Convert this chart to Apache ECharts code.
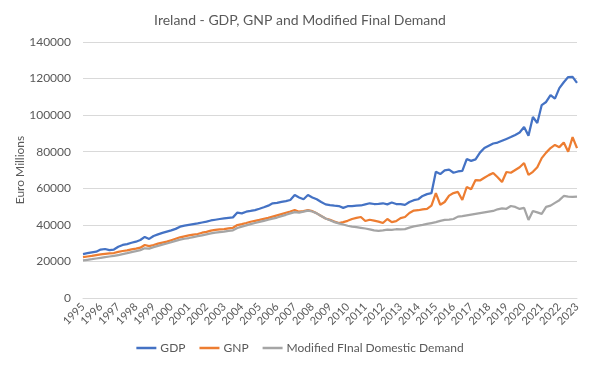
<!DOCTYPE html>
<html>
<head>
<meta charset="utf-8">
<script src="https://cdn.jsdelivr.net/npm/echarts@6/dist/echarts.min.js"></script>
<style>html,body{margin:0;padding:0;background:#fff}#c{width:600px;height:373px}</style>
</head>
<body>
<div id="c"></div>
<script>
const years = [1995,1996,1997,1998,1999,2000,2001,2002,2003,2004,2005,2006,2007,2008,2009,2010,2011,2012,2013,2014,2015,2016,2017,2018,2019,2020,2021,2022,2023];
const yTicks = [0,20000,40000,60000,80000,100000,120000,140000];
const gdp = [
24000,24500,25000,25300, 26500,26800,26200,26500, 28000,29000,29500,30200, 30800,31700,33400,32300,
33900,34800,35600,36300, 37000,37800,39000,39600, 40000,40400,40800,41300, 41800,42400,42800,43200,
43500,43800,44100,46700, 46300,47200,47600,48100, 48800,49600,50500,51800, 52000,52600,53000,53600,
56300,55000,54000,56300, 55000,54000,52500,51200, 50800,50500,50300,49300, 50200,50300,50500,50600,
51200,51800,51400,51500, 51800,51200,52200,51400, 51300,50900,52500,53500, 54000,55800,56800,57300,
69000,67800,69800,70200, 68500,69200,69500,76000, 75000,75800,79500,82000, 83300,84500,85000,86000,
87000,88000,89200,90500, 93500,88800,99000,95700, 105500,107200,111000,109000, 114800,118000,120800,120900,
117600];
const gnp = [
22300,22700,23000,23400, 23800,24100,24400,24600, 25200,25700,26000,26600, 27000,27500,29000,28400,
29000,29700,30300,30800, 31600,32400,33200,33700, 34200,34700,35000,35700, 36200,36800,37200,37500,
37700,38100,38400,39900, 40400,41000,41700,42200, 42700,43300,43800,44500, 45200,45900,46600,47300,
48100,47200,47500,48100, 47500,46300,44800,43500, 42700,41800,41000,41500, 42200,43200,43800,44300,
42100,42800,42300,41800, 41000,43200,41500,42000, 43700,44300,46500,47800, 48000,48500,48700,50500,
57400,51000,52500,56000, 57400,58000,53600,60700, 59500,64500,64300,65800, 67200,68400,66000,63400,
68900,68500,70000,71500, 73800,67300,69000,71500, 76500,79500,82000,83700, 82500,85000,80000,88000,
82000];
const mfdd = [
20600,20900,21200,21600, 22000,22400,22700,23000, 23500,24000,24500,25100, 25600,26200,27200,27000,
27800,28500,29200,29800, 30500,31200,31900,32400, 32800,33300,33800,34300, 34800,35300,35700,36000,
36300,36700,37000,38300, 39000,39700,40400,41000, 41600,42200,42800,43400, 44000,44800,45500,46300,
47000,46700,47200,47800, 47300,46300,44800,43500, 42500,41500,40800,40200, 39500,39000,38800,38400,
38000,37500,37000,36700, 37000,37400,37300,37600, 37500,37700,38500,39200, 39600,40000,40500,41000,
41500,42200,42700,42900, 43200,44500,44800,45200, 45600,46000,46400,46800, 47200,47600,48500,49000,
48800,50300,49800,48700, 49300,42700,47600,46800, 46000,49800,50500,52000, 53500,55800,55500,55300,
55500];
const seriesNames = ['GDP','GNP','Modified FInal Domestic Demand'];
const colors = ['#4472C4','#ED7D31','#A5A5A5'];

const categories = [];
years.forEach(y => { for (let q = 1; q <= 4; q++) categories.push(y + 'Q' + q); });
categories.length = gdp.length;

const font = 'Lato, "Liberation Sans", sans-serif';
const chart = echarts.init(document.getElementById('c'), null, {renderer: 'canvas'});
const mk = (i, d) => ({
  name: seriesNames[i], type: 'line', data: d, symbol: 'none',
  itemStyle: {color: colors[i]},
  lineStyle: {width: 2.25, color: colors[i]}
});
chart.setOption({
  animation: false,
  backgroundColor: '#fff',
  color: colors,
  title: {
    text: 'Ireland - GDP, GNP and Modified Final Demand',
    left: 'center', top: 8,
    textStyle: {fontFamily: font, fontSize: 14, fontWeight: 'normal', color: '#595959'}
  },
  legend: {
    bottom: 14, left: 'center',
    icon: 'rect', itemWidth: 20, itemHeight: 2.5, itemGap: 14,
    textStyle: {fontFamily: font, fontSize: 12, color: '#595959', padding: [0, 0, 0, -1]},
    data: seriesNames
  },
  grid: {left: 83, right: 23, top: 42, bottom: 75},
  xAxis: {
    type: 'category', data: categories, boundaryGap: false,
    axisLine: {show: true, lineStyle: {color: '#D9D9D9', width: 1}},
    axisTick: {show: false},
    axisLabel: {
      interval: 3, rotate: 45, fontFamily: font, fontSize: 11, color: '#595959', margin: 7,
      formatter: v => v.slice(0, 4)
    },
    splitLine: {show: false}
  },
  yAxis: {
    type: 'value', min: yTicks[0], max: yTicks[yTicks.length - 1], interval: 20000,
    name: 'Euro Millions', nameLocation: 'middle', nameGap: 57, nameRotate: 90,
    nameMoveOverlap: false,
    nameTextStyle: {fontFamily: font, fontSize: 12, color: '#595959'},
    axisLine: {show: false}, axisTick: {show: false},
    axisLabel: {fontFamily: font, fontSize: 12, color: '#595959', margin: 12, formatter: v => String(v)},
    splitLine: {lineStyle: {color: '#D9D9D9', width: 1}}
  },
  series: [mk(0, gdp), mk(1, gnp), mk(2, mfdd)]
});
</script>
</body>
</html>
